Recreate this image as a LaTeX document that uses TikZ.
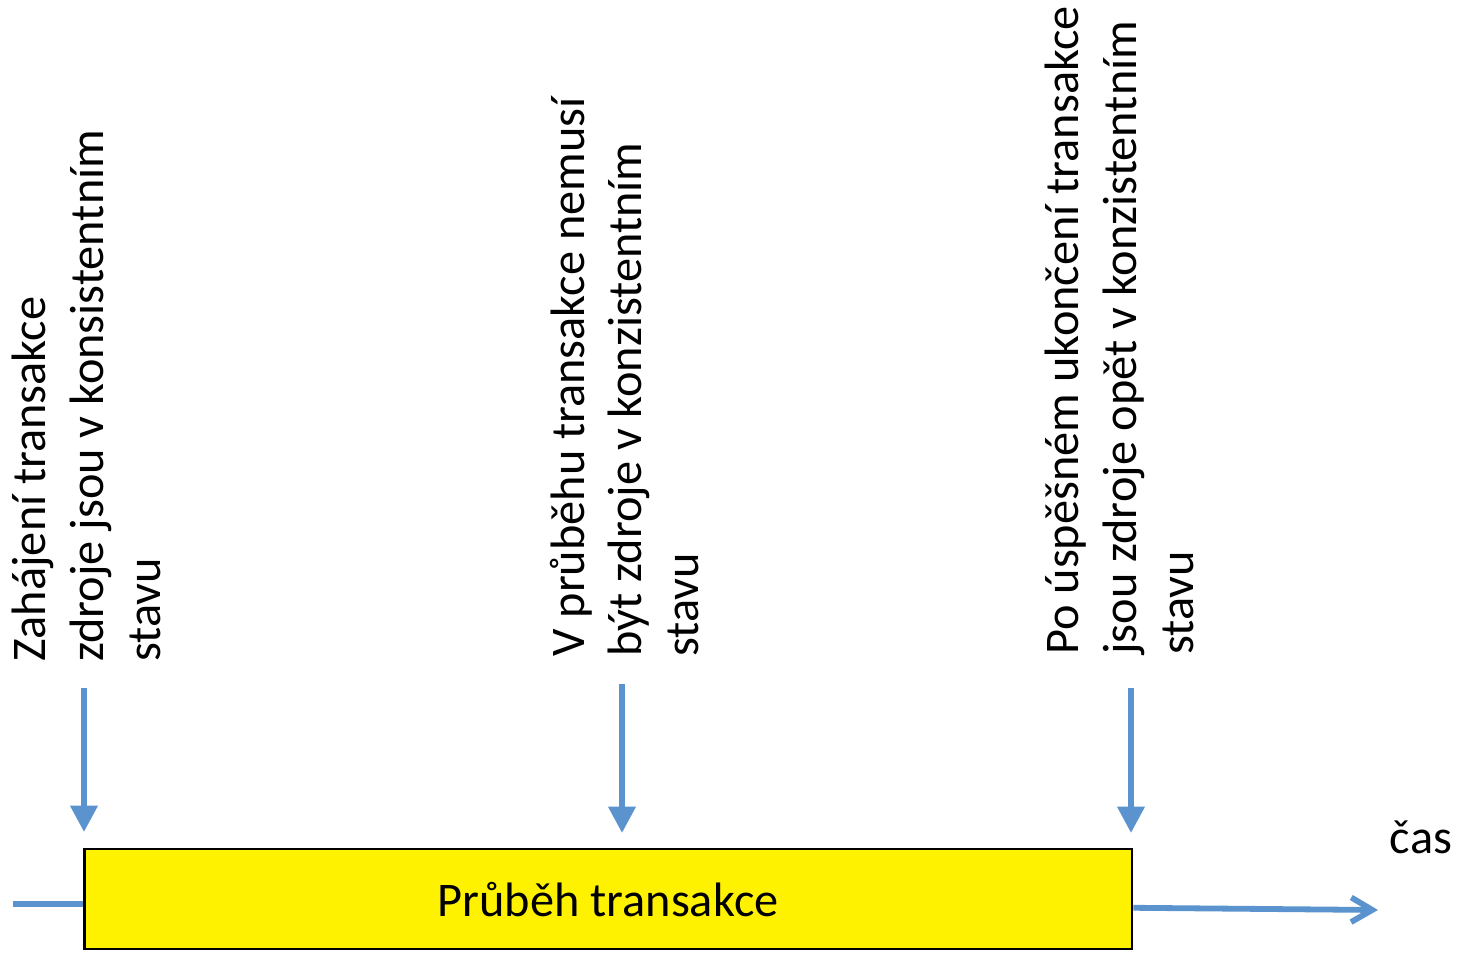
\documentclass[tikz,border=0pt]{standalone}
\usepackage{fontspec}
\setmainfont{Carlito}
\usetikzlibrary{arrows.meta,positioning}
\definecolor{flowblue}{RGB}{91,147,206}

\begin{document}
\begin{tikzpicture}[x=0.02cm, y=-0.02cm, >=Stealth,
  flow/.style={draw=flowblue, line width=3.3pt},
  mark down/.style={flow, -{Triangle[length=15pt,width=15pt]}},
  note/.style={rotate=90, anchor=north west, align=left, inner sep=0pt,
    font=\fontsize{27.5}{32.5}\selectfont}]
\useasboundingbox (0,0) rectangle (1457,953);

% time line and the transaction
\node[draw, line width=1.6pt, fill=yellow, minimum width=20.96cm, minimum height=2cm,
  font=\fontsize{27.5}{32}\selectfont, text depth=-3.4pt] (run) at (608,899) {Průběh transakce};
\draw[flow] (13,904) coordinate (t0) -- (t0 -| run.west);
\draw[flow, -{Straight Barb[length=12pt,width=14pt]}] ([yshift=-5pt]run.east) -- (1378,910) coordinate (t1);
\node[font=\fontsize{27.5}{32}\selectfont] (cas) at (1421,837) {čas};

% states along the run
\node[note] (begin) at (12,662) {Zahájení transakce\\zdroje jsou v konsistentním\\stavu};
\node[note] (middle) at (550,657) {V průběhu transakce nemusí\\být zdroje v konzistentním\\stavu};
\node[note] (end) at (1045,655) {Po úspěšném ukončení transakce\\jsou zdroje opět v konzistentním\\stavu};

\draw[mark down] (84,688) coordinate (a1) -- (84,832) coordinate (b1);
\draw[mark down] (622,684) coordinate (a2) -- (622,833) coordinate (b2);
\draw[mark down] (1131,688) coordinate (a3) -- (1131,833) coordinate (b3);
\end{tikzpicture}
\end{document}
